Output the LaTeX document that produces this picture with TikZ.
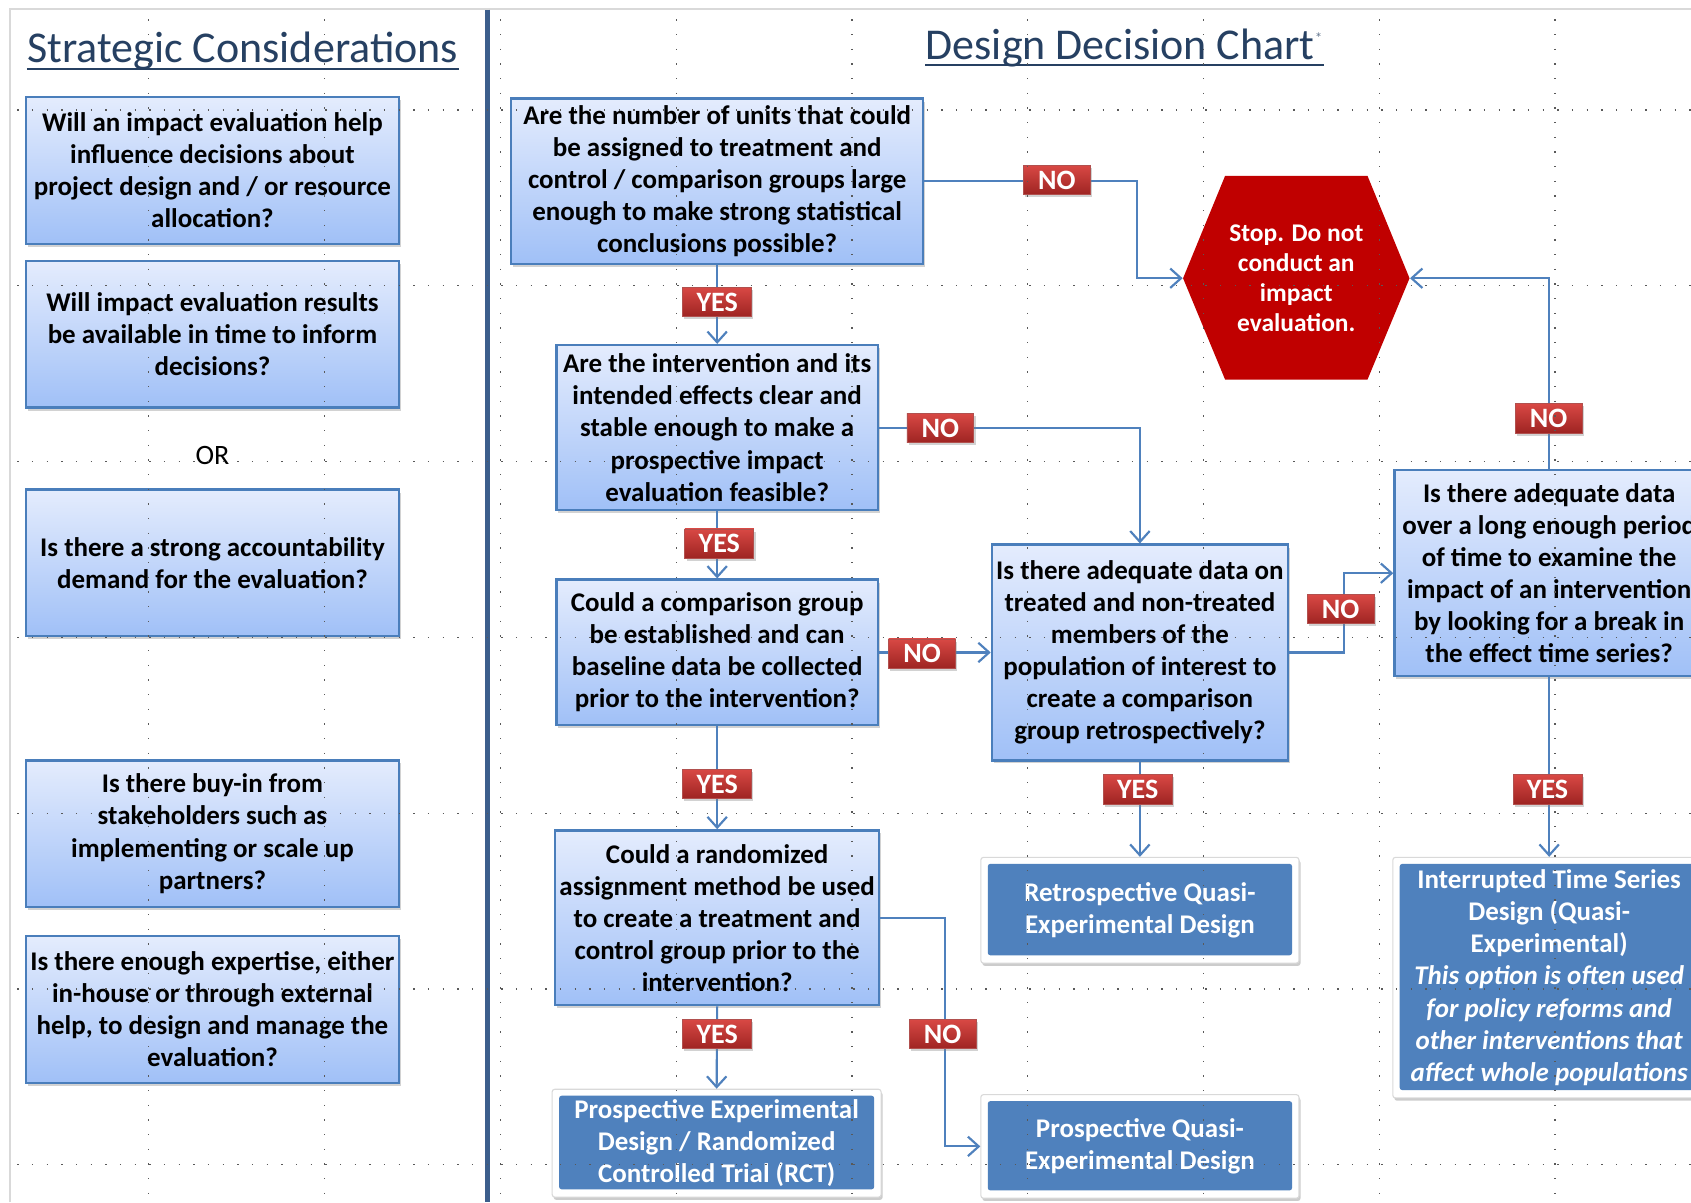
\documentclass[tikz,border=0pt]{standalone}
\usepackage{fontspec}
\setmainfont{Carlito}
\usepackage{tikz}
\usetikzlibrary{calc}
\usetikzlibrary{arrows.meta,shadows}
\usepackage{xcolor}
\definecolor{boxline}{RGB}{74,126,187}
\definecolor{boxtop}{RGB}{228,236,253}
\definecolor{boxbot}{RGB}{160,192,247}
\definecolor{resblue}{RGB}{79,129,189}
\definecolor{tagtop}{RGB}{216,72,68}
\definecolor{tagbot}{RGB}{158,36,34}
\definecolor{stopred}{RGB}{192,0,0}
\definecolor{titleblue}{RGB}{38,64,98}
\definecolor{rulecol}{RGB}{60,94,140}

\begin{document}
\begin{tikzpicture}[x=0.5pt,y=-0.5pt,
 qbox/.style={draw=boxline,line width=1.1pt,top color=boxtop,bottom color=boxbot,
  drop shadow={shadow xshift=0.8pt,shadow yshift=-1.4pt,opacity=0.35},
  align=center,inner sep=2pt,font=\bfseries\fontsize{12.5}{14.85}\selectfont},
 rbox/.style={draw=black!15,line width=0.5pt,fill=white,rounded corners=1.2pt,text=white,
  drop shadow={shadow xshift=0.7pt,shadow yshift=-1.3pt,opacity=0.4},
  path picture={\fill[resblue] ([xshift=3.2pt,yshift=-3pt]path picture bounding box.north west)
   rectangle ([xshift=-3.2pt,yshift=3.6pt]path picture bounding box.south east);},
  align=center,inner sep=2pt,font=\bfseries\fontsize{12.5}{14.85}\selectfont},
 tag/.style={draw=tagbot!80,line width=0.4pt,top color=tagtop,bottom color=tagbot,
  text=white,minimum height=13.5pt,inner sep=1pt,
  drop shadow={shadow xshift=0.8pt,shadow yshift=-1.2pt,opacity=0.35},
  font=\bfseries\fontsize{13}{13}\selectfont},
 link/.style={draw=resblue,line width=1pt,-{Straight Barb[length=5pt,width=9pt]}},
 gridline/.style={black!65,line width=0.6pt,dash pattern=on 0.6pt off 6.2pt},
 heading/.style={titleblue,inner sep=0pt,font=\fontsize{20.4}{24}\selectfont}]
 \useasboundingbox (0,0) rectangle (1568,1115);
 \clip (0,0) rectangle (1568,1115);
 \fill[white] (0,0) rectangle (1568,1115);
 % slide frame and divider
 \draw[black!15,line width=1pt] (9,1115) -- (9,8) -- (1568,8);
 \draw[rulecol,line width=1.9pt] (452,9) -- (452,1115);
 %
 \node[heading,anchor=base west] (t1) at (25,58) {Strategic Considerations};
 \draw[titleblue,line width=0.9pt] ([yshift=-2.8pt]t1.base west) -- ([yshift=-2.8pt]t1.base east);
 \node[heading,anchor=base west] (t2) at (858,55) {Design Decision Chart\textsuperscript{\scriptsize\color{titleblue!70}*}};
 \draw[titleblue,line width=0.9pt] ([yshift=-2.8pt]t2.base west) -- ([yshift=-2.8pt]t2.base east);
 %
 \begin{scope}[every node/.append style={qbox,minimum width=173pt,minimum height=68pt}]
 \node (s1) at (197,158) {Will an impact evaluation help\\influence decisions about\\project design and / or resource\\allocation?};
 \node (s2) at (197,310) {Will impact evaluation results\\be available in time to inform\\decisions?};
 \node (s3) at (197,522) {Is there a strong accountability\\demand for the evaluation?};
 \node (s4) at (197,773) {Is there buy-in from\\stakeholders such as\\implementing or scale up\\partners?};
 \node (s5) at (197,936) {Is there enough expertise, either\\in-house or through external\\help, to design and manage the\\evaluation?};
 \end{scope}
 \node[font=\fontsize{13}{13}\selectfont] (or) at (197,422) {OR};
 %
 \node[qbox,minimum width=191pt,minimum height=76.5pt] (q1) at (665,168) {Are the number of units that could\\be assigned to treatment and\\control / comparison groups large\\enough to make strong statistical\\conclusions possible?};
 \node[qbox,minimum width=149pt,minimum height=76.5pt] (q2) at (665,396.5) {Are the intervention and its\\intended effects clear and\\stable enough to make a\\prospective impact\\evaluation feasible?};
 \node[qbox,minimum width=149pt,minimum height=67.5pt] (q3) at (665,605) {Could a comparison group\\be established and can\\baseline data be collected\\prior to the intervention?};
 \node[qbox,minimum width=149pt,minimum height=81pt] (q4) at (665,851) {Could a randomized\\assignment method be used\\to create a treatment and\\control group prior to the\\intervention?};
 \node[qbox,minimum width=137pt,minimum height=100pt] (q5) at (1057,605) {Is there adequate data on\\treated and non-treated\\members of the\\population of interest to\\create a comparison\\group retrospectively?};
 \node[qbox,minimum width=143.5pt,minimum height=95.5pt] (q6) at (1436.5,531.5) {Is there adequate data\\over a long enough period\\of time to examine the\\impact of an intervention\\by looking for a break in\\the effect time series?};
 %
 \node[rbox,minimum width=152.5pt,minimum height=50pt] (r1) at (664.5,1060) {Prospective Experimental\\Design / Randomized\\Controlled Trial (RCT)};
 \node[rbox,minimum width=147.5pt,minimum height=49pt] (r2) at (1057,844) {Retrospective Quasi-\\Experimental Design};
 \node[rbox,minimum width=147.5pt,minimum height=48pt] (r3) at (1057,1063) {Prospective Quasi-\\Experimental Design};
 \node[rbox,minimum width=145pt,minimum height=111.5pt] (r4) at (1436.5,906.5) {Interrupted Time Series\\Design (Quasi-\\Experimental)\\\itshape This option is often used\\\itshape for policy reforms and\\\itshape other interventions that\\\itshape affect whole populations};
 %
 \begin{scope}[shift={(1202,258)}]
 \fill[stopred] (-105,0) -- (-66,-95) -- (66,-95) -- (105,0) -- (66,94) -- (-66,94) -- cycle;
 \end{scope}
 \node[minimum width=105pt,minimum height=94pt,inner sep=0pt,text=white,align=center,
  font=\bfseries\fontsize{11.8}{14}\selectfont] (stop) at (1202,258) {Stop. Do not\\conduct an\\impact\\evaluation.};
 %
 \coordinate (b1) at (1054,258);
 \draw[link] (q1.south) -- (q2.north);
 \draw[link] (q2.south) -- (q3.north);
 \draw[link] (q3.south) -- (q4.north);
 \draw[link] (q4.south) -- (r1.north);
 \draw[link] (q1.east) -| (b1) -- (stop.west);
 \draw[link] (q2.east) -| (q5.north);
 \draw[link] (q3.east) -- (q5.west);
 \draw[link] (q5.east) -- ++(51,0) |- (q6.west);
 \draw[link] (q6.north) |- (stop.east);
 \draw[link] (q5.south) -- (r2.north);
 \draw[link] (q6.south) -- (r4.north);
 \draw[link] (q4.east) -- ++(60,0) |- (r3.west);
 %
 \begin{scope}[every node/.append style={tag}]
 \node[minimum width=32pt] (y1) at (665,280) {YES};
 \node[minimum width=32pt] (y2) at (667,504) {YES};
 \node[minimum width=32pt] (y3) at (665,727) {YES};
 \node[minimum width=32pt] (y4) at (665,959) {YES};
 \node[minimum width=32pt] (y5) at (1055,732) {YES};
 \node[minimum width=32pt] (y6) at (1435,732) {YES};
 \node[minimum width=31pt] (n1) at (980,167) {NO};
 \node[minimum width=31pt] (n2) at (872,397) {NO};
 \node[minimum width=31pt] (n3) at (855,606) {NO};
 \node[minimum width=31pt] (n4) at (874,959) {NO};
 \node[minimum width=31pt] (n5) at (1243,565) {NO};
 \node[minimum width=31pt] (n6) at (1436,388) {NO};
 \end{scope}
 %
 \foreach \gx in {138,301,...,1442}
  \draw[gridline] (\gx,18) -- (\gx,1115);
 \foreach \gy in {102,265,...,1080}
  \draw[gridline] (16,\gy) -- (1568,\gy);
\end{tikzpicture}
\end{document}
